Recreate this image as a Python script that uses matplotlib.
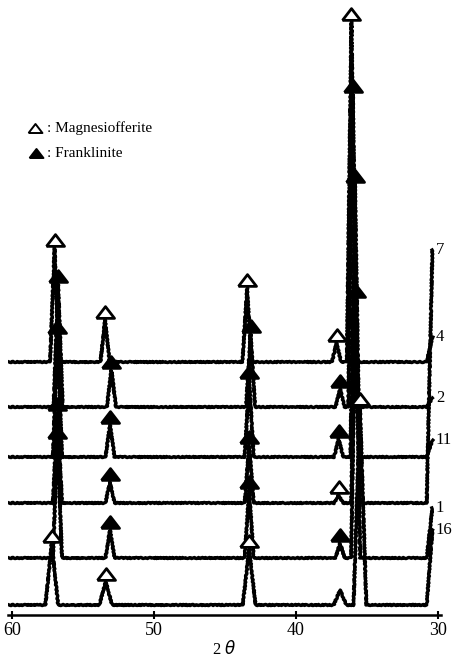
import matplotlib.pyplot as plt
import numpy as np

# sample labels, top trace first
labels = ["4", "2", "11", "7", "1", "16"]
baselines = [253, 208, 158, 112, 57, 10]
end_rise = [25, 9, 17, 253, 50, 75]

# peak positions (2 theta), heights above baseline, marker kind (o=open, f=filled, n=none)
peak_pos = [
    [57.0, 53.45, 43.45, 37.15, 36.1],
    [56.75, 53.0, 43.2, 36.9, 36.0],
    [56.8, 53.1, 43.3, 37.0, 35.85],
    [56.8, 53.1, 43.3, 37.0, 35.8],
    [56.8, 53.1, 43.3, 36.9, 35.8],
    [57.2, 53.4, 43.3, 36.9, 35.5],
]
peak_h = [
    [114, 42, 74, 19, 340],
    [123, 37, 73, 18, 313],
    [122, 32, 77, 18, 273],
    [91, 21, 58, 8, 204],
    [118, 28, 68, 15, 260],
    [61, 23, 56, 15, 198],
]
peak_mark = [
    ["o", "o", "o", "o", "o"],
    ["f", "f", "f", "f", "f"],
    ["f", "f", "f", "f", "f"],
    ["f", "f", "f", "o", "f"],
    ["f", "f", "f", "f", "n"],
    ["o", "o", "o", "n", "o"],
]
half_w = [0.32, 0.32, 0.32, 0.32, 0.32, 0.45]

serif = ["Liberation Serif", "DejaVu Serif"]
tri = [(-1, -0.65), (1, -0.65), (0, 0.65), (-1, -0.65)]

fig = plt.figure(figsize=(4.55, 6.65), dpi=100)
ax = fig.add_axes([0.017, 0.0752, 0.952, 0.9248])
ax.set_xlim(60.3, 29.8)
ax.set_ylim(0, 615)

for i in range(len(labels)):
    b = baselines[i]
    xs = [60.2]
    ys = [b]
    for p, h in zip(peak_pos[i], peak_h[i]):
        w = half_w[i]
        xs += [p + w, p, p - w]
        ys += [b, b + h, b]
    xs += [30.8, 30.4]
    ys += [b, b + end_rise[i]]
    line, = ax.plot(xs, ys, color="black", lw=2.4, zorder=2,
                    solid_joinstyle="round")
    line.set_sketch_params(0.6, 4, 2)
    for p, h, m in zip(peak_pos[i], peak_h[i], peak_mark[i]):
        if m == "n":
            continue
        fc = "white" if m == "o" else "black"
        ax.plot(p, b + h + 8, marker=tri, ms=13, mfc=fc, mec="black",
                mew=2.0, zorder=3, ls="none")
    ax.text(30.15, b + end_rise[i], labels[i], fontsize=12, family=serif,
            ha="left", va="center")

# legend
ax.plot(0.062, 0.792, marker=tri, ms=10, mfc="white", mec="black", mew=1.4,
        transform=ax.transAxes, ls="none")
ax.text(0.09, 0.792, ": Magnesiofferite", transform=ax.transAxes, fontsize=11,
        family=serif, va="center")
ax.plot(0.065, 0.751, marker=tri, ms=10, mfc="black", mec="black", mew=1.4,
        transform=ax.transAxes, ls="none")
ax.text(0.09, 0.751, ": Franklinite", transform=ax.transAxes, fontsize=11,
        family=serif, va="center")

for s in ["top", "left", "right"]:
    ax.spines[s].set_visible(False)
ax.spines["bottom"].set_linewidth(1.8)
ax.set_yticks([])
ax.set_xticks([60, 50, 40, 30])
ax.set_xticklabels(["60", "50", "40", "30"], family=serif, fontsize=13)
ax.tick_params(axis="x", direction="inout", length=6, width=1.5, pad=2)
ax.set_xlabel("2 $\\theta$", family=serif, fontsize=12, labelpad=1)

fig.savefig("out.png", dpi=100)
